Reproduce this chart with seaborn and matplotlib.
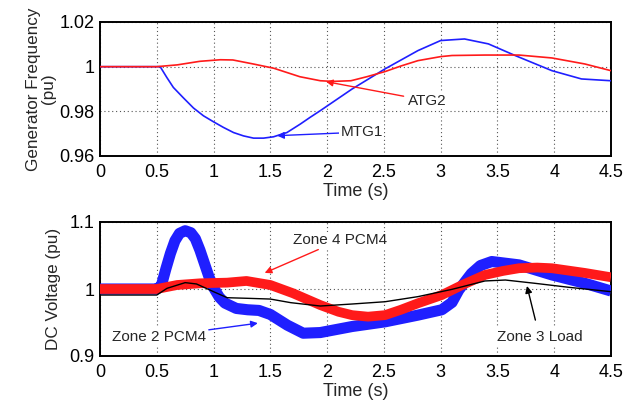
import matplotlib
matplotlib.use("Agg")
import matplotlib.pyplot as plt
import seaborn as sns

sns.set_style("white")
plt.rcParams['font.family'] = ['Liberation Sans', 'DejaVu Sans']

# ---- Top panel: generator frequency (pu) ----
atg2_t = [0, 0.5, 0.68, 0.88, 1.06, 1.17, 1.35, 1.53, 1.76, 1.94, 2.05, 2.21, 2.35, 2.51,
          2.65, 2.8, 3.0, 3.1, 3.39, 3.69, 3.98, 4.27, 4.5]
atg2_v = [1.0, 1.0, 1.0008, 1.0024, 1.0031, 1.003, 1.0012, 0.9993, 0.9955, 0.9937, 0.9934,
          0.9937, 0.9955, 0.9978, 1.0003, 1.0027, 1.0045, 1.005, 1.0052, 1.0052, 1.0039,
          1.0012, 0.9982]
mtg1_t = [0, 0.53, 0.588, 0.646, 0.735, 0.823, 0.911, 1.0, 1.087, 1.176, 1.264, 1.352,
          1.44, 1.528, 1.646, 1.764, 1.85, 1.94, 2.22, 2.51, 2.8, 3.0, 3.21, 3.42, 3.66,
          3.98, 4.24, 4.5]
mtg1_v = [1.0, 1.0, 0.9952, 0.9907, 0.986, 0.9815, 0.978, 0.9753, 0.9728, 0.9705, 0.969,
          0.968, 0.968, 0.9686, 0.9705, 0.9743, 0.9773, 0.9803, 0.99, 0.999, 1.0072, 1.0117,
          1.0124, 1.0102, 1.0049, 0.9982, 0.9945, 0.9937]

# ---- Bottom panel: DC voltage (pu) ----
z2_t = [0, 0.5, 0.54, 0.58, 0.62, 0.66, 0.70, 0.75, 0.80, 0.84, 0.88, 0.92, 0.96, 1.0,
        1.05, 1.1, 1.2, 1.3, 1.4, 1.5, 1.65, 1.79, 1.94, 2.22, 2.51, 2.8, 3.01, 3.1,
        3.16, 3.22, 3.27, 3.35, 3.45, 3.69, 3.98, 4.27, 4.5]
z2_v = [1.0, 1.0, 1.005, 1.03, 1.053, 1.072, 1.083, 1.087, 1.084, 1.075, 1.058, 1.038,
        1.018, 1.002, 0.988, 0.979, 0.971, 0.969, 0.968, 0.962, 0.946, 0.934, 0.935,
        0.944, 0.951, 0.961, 0.969, 0.98, 0.9985, 1.012, 1.023, 1.035, 1.041, 1.036,
        1.021, 1.0085, 0.997]
z4_t = [0, 0.5, 0.68, 0.88, 1.12, 1.29, 1.5, 1.7, 1.94, 2.1, 2.22, 2.36, 2.51, 2.65,
        2.8, 3.01, 3.19, 3.39, 3.55, 3.69, 3.85, 3.98, 4.27, 4.5]
z4_v = [1.0, 1.0, 1.006, 1.0085, 1.0095, 1.012, 1.006, 0.9936, 0.976, 0.966, 0.961,
        0.9587, 0.961, 0.969, 0.9787, 0.991, 1.006, 1.021, 1.027, 1.031, 1.032, 1.031,
        1.024, 1.0175]
z3_t = [0, 0.5, 0.59, 0.75, 0.85, 1.0, 1.12, 1.32, 1.5, 1.68, 1.94, 2.22, 2.51, 2.8,
        3.1, 3.39, 3.57, 3.83, 4.13, 4.5]
z3_v = [0.991, 0.991, 1.001, 1.0095, 1.0075, 0.996, 0.987, 0.986, 0.985, 0.9796, 0.9746,
        0.9776, 0.981, 0.9886, 0.9995, 1.012, 1.0134, 1.0085, 1.0025, 0.996]

x_ticks = [0, 0.5, 1, 1.5, 2, 2.5, 3, 3.5, 4, 4.5]
x_ticklabels = ["0", "0.5", "1", "1.5", "2", "2.5", "3", "3.5", "4", "4.5"]
top_yticks = [0.96, 0.98, 1.0, 1.02]
top_yticklabels = ["0.96", "0.98", "1", "1.02"]
bot_yticks = [0.9, 1.0, 1.1]
bot_yticklabels = ["0.9", "1", "1.1"]

fig = plt.figure(figsize=(6.38, 4.07), dpi=100)
ax1 = fig.add_axes([100/638, 1-156/407, 511/638, 134/407])
ax2 = fig.add_axes([100/638, 1-356/407, 511/638, 134/407])

BLUE = "#1f1fff"
RED = "#ff1a1a"

sns.lineplot(x=mtg1_t, y=mtg1_v, ax=ax1, color=BLUE, lw=1.2, sort=False, zorder=3)
sns.lineplot(x=atg2_t, y=atg2_v, ax=ax1, color=RED, lw=1.2, sort=False, zorder=3)

sns.lineplot(x=z2_t, y=z2_v, ax=ax2, color=BLUE, lw=8.0, sort=False, zorder=3,
             solid_joinstyle="round", solid_capstyle="butt")
sns.lineplot(x=z4_t, y=z4_v, ax=ax2, color=RED, lw=7.0, sort=False, zorder=4,
             solid_joinstyle="round", solid_capstyle="butt")
sns.lineplot(x=z3_t, y=z3_v, ax=ax2, color="black", lw=1.0, sort=False, zorder=5)

for ax, yt, ytl, ylim in [(ax1, top_yticks, top_yticklabels, (0.96, 1.02)),
                          (ax2, bot_yticks, bot_yticklabels, (0.9, 1.1))]:
    ax.set_xlim(0, 4.5)
    ax.set_ylim(*ylim)
    ax.set_xticks(x_ticks)
    ax.set_xticklabels(x_ticklabels)
    ax.set_yticks(yt)
    ax.set_yticklabels(ytl)
    ax.tick_params(axis="x", labelsize=13, direction="in", length=0, pad=6,
                   colors="black")
    ax.tick_params(axis="y", labelsize=13, direction="in", length=0, pad=4,
                   colors="black")
    ax.grid(True, linestyle=(0, (1, 2.5)), color="#555555", lw=0.8)
    for s in ax.spines.values():
        s.set_visible(True)
        s.set_color("black")
        s.set_linewidth(1.4)
    ax.set_xlabel("Time (s)", fontsize=13, labelpad=1)

ax1.set_ylabel("Generator Frequency\n(pu)", fontsize=12.3, labelpad=2, linespacing=1.05)
ax2.set_ylabel("DC Voltage (pu)", fontsize=12.3, labelpad=6)

tb = dict(facecolor="white", edgecolor="none", pad=1)
ap = dict(arrowstyle="-|>", lw=1.0, mutation_scale=10)

ax1.annotate("MTG1", xy=(1.56, 0.9691), xytext=(2.12, 0.9707), fontsize=11,
             va="center", ha="left", bbox=tb,
             arrowprops=dict(color=BLUE, shrinkA=0, shrinkB=0, **ap))
ax1.annotate("ATG2", xy=(1.99, 0.9933), xytext=(2.71, 0.9848), fontsize=11,
             va="center", ha="left", bbox=tb,
             arrowprops=dict(color=RED, shrinkA=2, shrinkB=0, **ap))
ax2.annotate("Zone 4 PCM4", xy=(1.45, 1.024), xytext=(1.70, 1.073), fontsize=11,
             va="center", ha="left", bbox=tb,
             arrowprops=dict(color=RED, shrinkA=2, shrinkB=0, **ap))
ax2.annotate("Zone 2 PCM4", xy=(1.39, 0.949), xytext=(0.105, 0.929), fontsize=11,
             va="center", ha="left", bbox=tb,
             arrowprops=dict(color=BLUE, shrinkA=1, shrinkB=0, **ap))
ax2.annotate("Zone 3 Load", xy=(3.76, 1.0045), xytext=(3.87, 0.929), fontsize=11,
             va="center", ha="center", bbox=tb,
             arrowprops=dict(color="black", shrinkA=6, shrinkB=0, **ap))

fig.savefig("out.png", dpi=100, facecolor="white")
